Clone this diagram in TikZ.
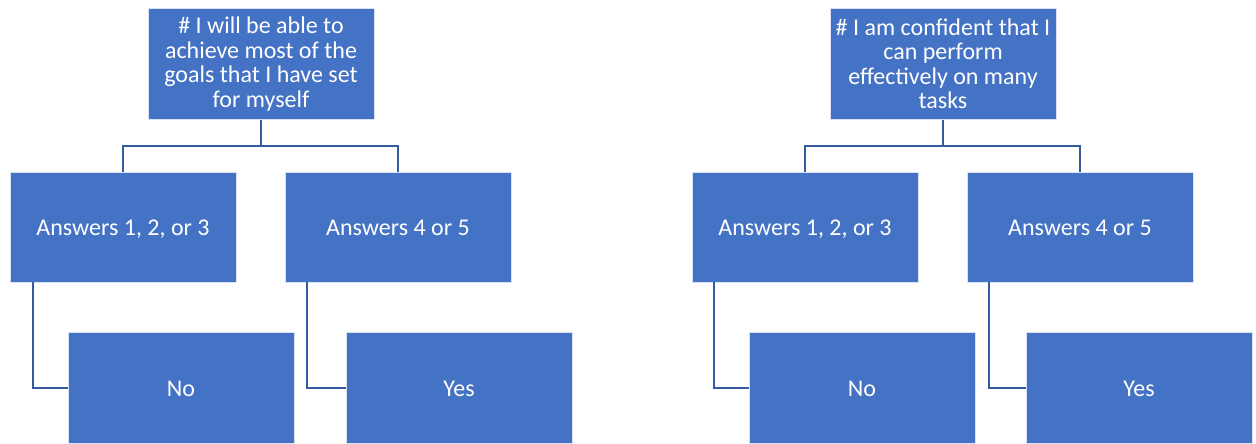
\documentclass[tikz,border=0pt]{standalone}
\usepackage{fontspec}
\setmainfont{Carlito}
\usetikzlibrary{positioning}
\definecolor{boxblue}{RGB}{68,114,196}
\definecolor{linkblue}{RGB}{52,90,162}

\begin{document}
\begin{tikzpicture}
    [x=1pt, y=1pt,
    node distance=163pt,
    qbox/.style={rectangle, fill=boxblue, draw=white!80!boxblue, line width=0.6pt,
        minimum width=226pt, minimum height=110pt, inner sep=4pt,
        text=white, align=center, font=\fontsize{24}{24.5}\selectfont},
    abox/.style={qbox, text height=20pt, text depth=3pt},
    link/.style={draw=linkblue, line width=2.2pt}]
    \useasboundingbox (0,0) rectangle (1256,-444);
        %% Tree 1
    \node[qbox, minimum height=111pt] (Q1) at (261,-64) {\# I will be able to\\achieve most of the\\goals that I have set\\for myself};
        \node[abox, below of = Q1, xshift=-138pt] (A1) {Answers 1, 2, or 3};
        \node[abox, below of = Q1, xshift=137pt] (B1) {Answers 4 or 5};
        \node[abox, below of = A1, node distance=161pt, xshift=58pt, minimum height=111pt] (N1) {No};
        \node[abox, below of = B1, node distance=161pt, xshift=61pt, minimum height=111pt] (Y1) {Yes};

        \draw[link] (Q1.south) -- ++(0,-26) -| (A1.north);
        \draw[link] (Q1.south) -- ++(0,-26) -| (B1.north);
        \draw[link] (A1.south west) ++(23,0) |- (N1.west);
        \draw[link] (B1.south west) ++(22,0) |- (Y1.west);

        %% Tree 2
    \node[qbox, right of = Q1, node distance=682pt, minimum height=111pt] (Q2) {\# I am confident that I\\can perform\\effectively on many\\tasks};
        \node[abox, below of = Q2, xshift=-138pt] (A2) {Answers 1, 2, or 3};
        \node[abox, below of = Q2, xshift=137pt] (B2) {Answers 4 or 5};
        \node[abox, below of = A2, node distance=161pt, xshift=57pt, minimum height=111pt] (N2) {No};
        \node[abox, below of = B2, node distance=161pt, xshift=59pt, minimum height=111pt] (Y2) {Yes};

        \draw[link] (Q2.south) -- ++(0,-26) -| (A2.north);
        \draw[link] (Q2.south) -- ++(0,-26) -| (B2.north);
        \draw[link] (A2.south west) ++(22,0) |- (N2.west);
        \draw[link] (B2.south west) ++(22,0) |- (Y2.west);
    \end{tikzpicture}
\end{document}
